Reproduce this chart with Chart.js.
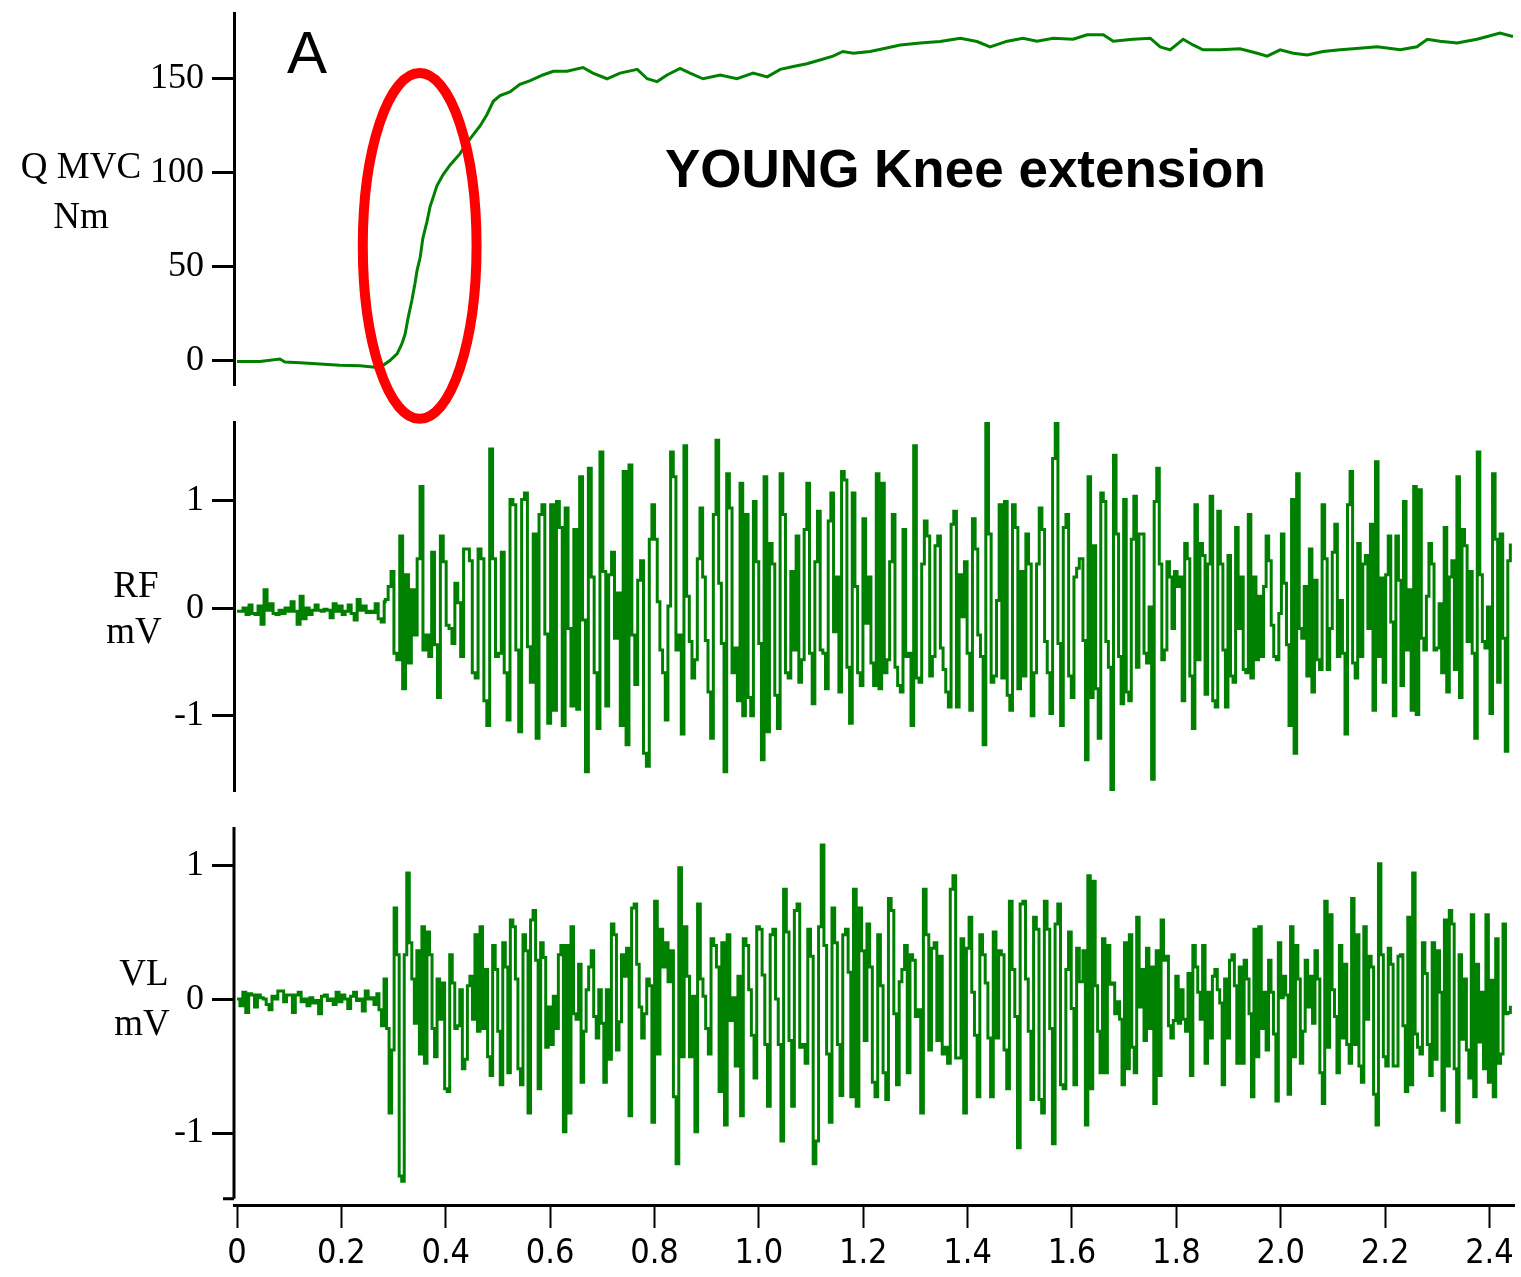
<!DOCTYPE html>
<html>
<head>
<meta charset="utf-8">
<title>YOUNG Knee extension</title>
<script src="https://cdn.jsdelivr.net/npm/chart.js@4.4.1/dist/chart.umd.min.js"></script>
<style>
  html, body { margin: 0; padding: 0; background: #fff; }
  #wrap { position: relative; width: 1521px; height: 1277px; overflow: hidden; background: #fff; }
  #wrap canvas { position: absolute; left: 0; }
  #cTorque { top: 0; z-index: 3; }
  #cRF { top: 400px; z-index: 2; }
  #cVL { top: 810px; z-index: 1; }
</style>
</head>
<body>
<div id="wrap">
  <canvas id="cTorque" width="1521" height="430" style="width:1521px;height:430px"></canvas>
  <canvas id="cRF" width="1521" height="410" style="width:1521px;height:410px"></canvas>
  <canvas id="cVL" width="1521" height="467" style="width:1521px;height:467px"></canvas>
</div>
<script>
// ---- data ----
// time axis, seconds
const TIME_TICKS = [0, 0.2, 0.4, 0.6, 0.8, 1.0, 1.2, 1.4, 1.6, 1.8, 2.0, 2.2, 2.4];
const TIME_LABELS = ['0', '0.2', '0.4', '0.6', '0.8', '1.0', '1.2', '1.4', '1.6', '1.8', '2.0', '2.2', '2.4'];
const Q_TICKS = [0, 50, 100, 150];
const MV_TICKS = [-1, 0, 1];

// quadriceps MVC torque (Nm)
const torqueTime = [0, 0.044, 0.082, 0.092, 0.121, 0.159, 0.197, 0.236, 0.264, 0.280, 0.293, 0.307,
  0.316, 0.322, 0.328, 0.335, 0.341, 0.345, 0.351, 0.356, 0.364, 0.370, 0.376, 0.383, 0.395, 0.408,
  0.427, 0.441, 0.452, 0.466, 0.479, 0.491, 0.504, 0.523, 0.542, 0.562, 0.586, 0.606, 0.632, 0.663,
  0.682, 0.709, 0.734, 0.767, 0.786, 0.805, 0.824, 0.849, 0.868, 0.893, 0.926, 0.958, 0.989, 1.016,
  1.041, 1.066, 1.092, 1.117, 1.142, 1.161, 1.181, 1.213, 1.238, 1.271, 1.309, 1.347, 1.386, 1.418,
  1.443, 1.476, 1.506, 1.533, 1.564, 1.602, 1.629, 1.660, 1.679, 1.717, 1.750, 1.769, 1.788, 1.813,
  1.832, 1.851, 1.884, 1.922, 1.955, 1.974, 1.999, 2.024, 2.051, 2.081, 2.114, 2.139, 2.185, 2.229,
  2.261, 2.281, 2.305, 2.338, 2.376, 2.396, 2.420, 2.445];
const torqueNm = [-0.5, -0.5, 0.8, -0.8, -1.2, -1.8, -2.5, -2.8, -3.5, -2.5, 0, 3.7,
  9, 14, 23, 32, 41, 48, 55, 65, 74, 82, 87, 93, 99, 104,
  110, 116, 120, 125, 131, 138, 141, 143, 147, 149, 152, 154, 154, 156,
  153, 150, 153, 155, 150, 148.5, 152, 155.5, 153, 150, 152, 150, 153, 151,
  155, 156.5, 158, 160, 162, 164.5, 163.6, 164.5, 166, 168, 169, 169.8, 171.6, 169.8,
  167, 170, 171.6, 170, 171.6, 171, 173.4, 173.4, 170, 171, 171.6, 167, 165.4, 171,
  168, 165.4, 165.4, 166, 163.6, 162, 165.4, 163.6, 162.7, 164.5, 165.4, 166, 167, 165.4,
  167, 171, 170, 169, 171, 172.5, 174.3, 172.5];

// rectus femoris EMG (mV), in sections [start s, end s]
const rfQuietSpan = [0, 0.282];
const rfQuiet = [-0.03, -0.03, 0.0, -0.06, 0.03, -0.05, -0.06, 0.02, -0.15, 0.17, -0.02, 0.04, -0.05,
  -0.06, -0.02, -0.05, 0.0, -0.03, 0.06, -0.03, -0.15, 0.11, -0.1, 0.0, -0.06, -0.02, 0.03, -0.02,
  -0.03, -0.01, -0.02, -0.09, 0.04, -0.03, 0.02, -0.06, -0.03, 0.03, -0.05, -0.11, 0.08, -0.02, 0.02,
  -0.04, -0.03, -0.04, 0.04, -0.1, -0.13, 0.06];
const rfOnsetSpan = [0.284, 0.790];
const rfOnset = [0.08, 0.2, 0.34, -0.42, -0.48, 0.67, -0.75, 0.31, -0.51, 0.17, -0.25, 0.46, 1.13, -0.39,
  -0.25, -0.45, 0.52, -0.34, -0.83, 0.67, 0.43, -0.16, -0.19, -0.33, 0.23, 0.05, -0.45, 0.55, 0.55, 0.44,
  -0.6, -0.65, 0.55, 0.46, -0.86, -1.09, 1.48, 0.46, -0.45, -0.42, 0.52, -0.6, -1.04, 1.01, 0.96, -0.39,
  -1.15, 1.01, 1.07, -0.36, -0.69, 0.69, -1.21, 0.87, 0.96, -0.24, -1.07, 0.96, -0.95, 0.99, 0.75, -1.09,
  0.93, -0.19, -0.91, 0.73, -0.94, 1.22, -0.11, -1.52, 1.3, 0.29, -0.6, -1.12, 1.45, 0.34, -0.91, 0.31,
  0.52, -0.28, 0.14, -1.09, 1.27, -1.27, 1.33, -0.25, -0.71, 0.26, 0.44, -1.35, -1.47, 0.64];
const rfMidSpan = [0.795, 1.614];
const rfMid = [0.96, 0.64, 0.06, -0.39, -0.6, -1.04, 0.02, 1.45, 1.22, -0.39, -0.25, -1.17, 1.51, 0.11,
  -0.31, -0.65, -0.48, 0.46, 0.93, 0.29, -0.3, -0.78, -1.21, 0.87, 1.56, 0.23, -0.33, -1.52, 1.25, 0.93,
  -0.6, -0.37, -0.86, 1.16, -1.0, 0.87, -0.83, -1.0, 0.99, 0.43, -0.33, -1.41, 1.22, -1.15, 0.6, 0.41,
  -0.81, -1.12, 1.25, 0.87, -0.6, -0.65, 0.34, -0.39, 0.67, -0.69, -0.48, 0.73, 1.16, -0.42, -0.89, 0.43,
  0.9, -0.39, -0.42, -0.75, 0.81, 1.07, -0.22, 0.29, -0.78, 1.27, 1.19, -0.55, -1.07, 1.07, 0.2, -0.6,
  -0.72, 0.83, -0.14, 0.29, -0.51, -0.72, 1.25, -0.75, 1.16, -0.6, -0.48, 0.43, 0.87, -0.55, -0.72, -0.78,
  0.73, -0.45, -0.42, -1.09, 1.51, -0.65, -0.69, 0.41, 0.81, 0.67, -0.63, -0.45, 0.58, 0.67, -0.37, -0.57,
  -0.78, -0.92, 0.78, 0.9, -0.92, 0.31, -0.08, 0.43, -0.42, -0.95, 0.83, 0.55, -0.25, -0.45, -1.27, 1.73,
  0.69, -0.69, -0.63, 0.07, 0.96, -0.65, 0.99, -0.81, -0.95, 0.96, 0.75, -0.75, 0.34, -0.63, 0.69, 0.41,
  -1.0, -0.6, 0.41, 0.93, 0.73, -0.31, -0.6, -0.98, 1.39, 1.73, -0.33, -1.09, 0.75, 0.87, -0.63, -0.83,
  0.29, 0.37, 0.46];
const rfLateSpan = [1.621, 2.440];
const rfLate = [-0.3, -1.41, 1.22, -0.83, 0.58, -0.75, -1.21, 1.07, 0.99, -0.31, -0.55, -1.7, 1.42, 0.69,
  -0.45, -0.89, 1.01, -0.78, -0.86, 0.64, 1.04, -0.55, 0.69, 0.69, -0.42, -0.51, 0.01, -1.59, 0.99, 1.3,
  0.41, -0.48, -0.39, 0.43, 0.29, -0.19, 0.34, 0.2, 0.29, -0.86, 0.6, 0.46, -0.63, -1.12, 0.96, -0.48,
  0.6, 0.49, -0.8, 0.41, 1.04, -0.86, -0.92, 0.9, 0.41, -0.39, -0.92, 0.49, -0.63, -0.69, 0.75, -0.19,
  0.29, -0.57, -0.6, 0.87, -0.65, 0.29, -0.48, 0.11, -0.45, 0.2, 0.67, 0.44, -0.16, -0.45, -0.48, -0.05,
  0.69, 0.23, -0.34, -1.09, 1.01, -1.35, 1.25, -0.19, -0.28, 0.2, -0.63, 0.55, -0.78, 0.26, -0.48, -0.57,
  0.96, 0.46, -0.57, -0.19, 0.52, 0.78, -0.45, 0.07, -0.42, -1.17, 0.96, 1.27, -0.51, -0.65, 0.6, -0.45,
  0.41, 0.49, -0.19, 0.78, -0.95, 1.36, -0.45, 0.28, -0.69, 0.31, 0.67, -0.13, -1.0, 0.67, 0.26, -0.72,
  0.99, -0.39, 0.17, -0.95, 1.13, -0.99, 1.1, -0.28, -0.39, 0.11, 0.6, 0.41, -0.39, -0.37, 0.04, -0.6,
  0.75, -0.78, 0.29, 0.44, -0.57, 1.22, -0.83, 0.73, 0.58, -0.31, 0.34, -0.42, -1.21, 1.45, 0.31, -0.31,
  -0.37, 0.01, -0.98, 1.25, 0.64, -0.69, 0.69, -0.28, -1.33, 0.44, 0.6];

// vastus lateralis EMG (mV)
const vlQuietSpan = [0, 0.268];
const vlQuiet = [0.0, -0.05, 0.05, -0.1, 0.04, 0.03, -0.06, 0.03, 0.01, 0.0, -0.04, -0.08, 0.02, 0.0, 0.06,
  0.06, -0.02, 0.03, 0.03, -0.1, 0.03, 0.05, -0.02, 0.0, -0.05, 0.01, -0.03, -0.01, -0.11, 0.02, 0.03,
  -0.01, 0.0, -0.04, 0.05, -0.02, 0.03, 0.0, -0.07, 0.02, 0.05, -0.01, 0.0, -0.09, 0.06, 0.0, 0.01, -0.04, 0.04];
const vlOnsetSpan = [0.272, 0.790];
const vlOnset = [-0.08, -0.2, 0.15, -0.22, -0.85, -0.38, 0.68, 0.33, -1.32, -1.36,
  0.33, 0.94, 0.42, 0.15, -0.18, 0.36, -0.41, 0.54, -0.48, 0.5, 0.33, -0.22, -0.43, 0.15, -0.15, 0.12,
  -0.67, -0.69, 0.33, 0.12, -0.22, -0.2, 0.07, -0.52, -0.45, 0.1, 0.17, -0.15, 0.48, -0.24, 0.54, -0.22,
  0.22, -0.43, -0.57, 0.4, 0.22, -0.24, -0.64, 0.42, 0.24, -0.55, 0.59, 0.54, 0.15, -0.52, -0.64, 0.48,
  0.36, -0.85, 0.59, 0.66, 0.29, -0.67, 0.42, 0.31, -0.36, -0.06, -0.34, 0.02, -0.22, 0.33, 0.4, -0.99,
  0.4, -0.85, 0.54, -0.11, -0.15, 0.26, -0.62, -0.24, 0.07, 0.24, 0.36, -0.13, -0.29, 0.07, -0.18, -0.62,
  0.07, -0.45, 0.56, 0.48, -0.38, -0.17, 0.33, 0.17, 0.38, -0.87, 0.68, 0.71, 0.26, -0.06, -0.29, -0.11,
  0.15, 0.1];
const vlMidSpan = [0.795, 1.614];
const vlMid = [-0.92, 0.73, -0.41, 0.52, 0.24, 0.42, 0.13, 0.36, -0.73, -1.23, 0.98, -0.43, 0.54, 0.17,
  -0.43, 0.02, -0.99, 0.71, 0.15, 0.02, -0.22, -0.41, 0.45, 0.4, 0.24, -0.69, 0.42, -0.94, 0.48, -0.16,
  0.01, -0.5, 0.17, -0.87, 0.45, 0.4, 0.07, -0.27, -0.59, 0.54, 0.52, 0.18, -0.34, -0.8, 0.48, 0.52, 0.0,
  -0.34, -1.06, 0.82, 0.5, -0.31, -0.8, 0.66, 0.71, -0.36, -0.34, -0.48, 0.52, 0.32, -1.23, -1.06, 0.54,
  1.15, 0.4, -0.41, -0.92, 0.68, 0.42, -0.34, -0.72, 0.48, 0.52, 0.2, -0.73, 0.82, -0.8, 0.68, 0.36,
  -0.31, 0.56, 0.24, -0.62, -0.73, 0.48, 0.1, -0.55, -0.75, 0.75, 0.66, -0.11, -0.64, 0.13, 0.22, 0.4,
  -0.55, 0.33, 0.29, -0.13, -0.08, -0.85, 0.82, 0.48, -0.38, 0.38, 0.42, -0.31, 0.32, -0.41, -0.36, -0.48,
  0.82, 0.92, -0.44, -0.44, 0.45, -0.85, 0.38, 0.61, 0.05, -0.27, -0.73, 0.48, 0.33, 0.12, -0.29, -0.73,
  0.5, -0.29, 0.36, 0.33, -0.38, -0.67, 0.73, 0.22, -0.13, -1.11, 0.71, 0.73, 0.15, -0.24, -0.75, 0.61,
  0.52, -0.75, -0.85, 0.73, 0.52, -0.22, -1.08, 0.56, 0.71, -0.64, -0.67, 0.22, 0.5, -0.07, -0.64, 0.38, 0.13];
const vlLateSpan = [1.621, 2.440];
const vlLate = [0.36, -0.94, 0.92, -0.67, 0.88, 0.1, -0.24, -0.55, 0.45, -0.55, 0.4, 0.11, 0.12, -0.11,
  -0.02, -0.15, -0.64, 0.42, -0.52, 0.48, -0.36, -0.55, 0.61, -0.06, 0.22, -0.31, 0.38, -0.22, 0.24, -0.78,
  0.36, -0.57, 0.59, 0.29, 0.32, -0.2, -0.29, -0.16, 0.17, -0.18, 0.07, -0.15, -0.24, 0.19, -0.57, 0.4,
  0.24, 0.05, -0.15, 0.4, -0.48, 0.05, -0.29, 0.17, 0.22, 0.07, -0.03, -0.64, 0.15, -0.29, 0.29, 0.33,
  0.1, -0.48, 0.24, -0.48, 0.29, 0.15, -0.11, -0.73, 0.52, -0.43, 0.54, -0.22, 0.05, -0.38, 0.29, 0.05,
  -0.26, -0.76, 0.42, 0.01, 0.17, 0.03, -0.71, 0.54, -0.43, 0.4, 0.15, -0.48, -0.24, 0.29, -0.06, 0.17,
  -0.18, 0.36, 0.15, -0.55, -0.78, 0.73, -0.36, 0.63, 0.07, -0.13, -0.55, 0.4, -0.29, 0.26, -0.34, -0.48,
  0.75, -0.34, 0.48, -0.5, -0.62, 0.54, -0.15, 0.32, 0.24, -0.71, -0.94, 1.01, 0.33, -0.43, -0.5, 0.38,
  0.26, -0.5, -0.5, 0.32, 0.33, -0.2, -0.69, 0.61, -0.64, 0.94, -0.26, -0.36, -0.41, 0.42, 0.19, -0.34,
  -0.57, 0.42, -0.45, 0.36, 0.05, -0.83, 0.59, -0.5, 0.66, 0.56, -0.52, -0.92, 0.33, -0.3, 0.15, -0.38,
  -0.59, 0.63, -0.73, 0.26, -0.32, 0.05, -0.52, 0.63, -0.62, 0.14, -0.73, 0.45, -0.48, -0.41, 0.56, -0.11,
  -0.1, -0.05];

// ---- look ----
const GREEN = '#008000';
const SERIF = "'Liberation Serif', 'Times New Roman', serif";
const SANS = "'Liberation Sans', Arial, sans-serif";
const NARROW = "'Liberation Sans Narrow', 'DejaVu Sans Condensed', 'Arial Narrow', sans-serif";
const X_MIN = -0.0058, X_MAX = 2.447;

// samples of one section are evenly spaced between its start and end time
function sectionPoints(sections) {
  const pts = [];
  sections.forEach(([span, mv]) => {
    const step = (span[1] - span[0]) / (mv.length - 1);
    mv.forEach((v, i) => pts.push({ x: span[0] + i * step, y: v }));
  });
  return pts;
}

function yScale(min, max, ticks, showBorder = true) {
  return {
    type: 'linear', min, max,
    afterBuildTicks: axis => { axis.ticks = ticks.map(v => ({ value: v })); },
    afterFit: axis => { axis.width = 234; axis.paddingTop = 0; axis.paddingBottom = 0; },
    border: { display: showBorder, color: '#000', width: 3 },
    grid: { display: true, drawOnChartArea: false, tickLength: 22, tickWidth: 3, tickColor: '#000' },
    ticks: { color: '#000', font: { family: SERIF, size: 36 }, padding: 8, callback: v => String(v) }
  };
}

const hiddenX = { type: 'linear', min: X_MIN, max: X_MAX, display: false };

function lineSet(points, width, stepped) {
  return {
    data: points, borderColor: GREEN, borderWidth: width, pointRadius: 0,
    stepped, tension: 0, fill: false
  };
}

function textPlugin(items) {
  return {
    id: 'panelText',
    afterDraw(chart) {
      const ctx = chart.ctx;
      ctx.save();
      ctx.fillStyle = '#000';
      ctx.textBaseline = 'middle';
      items.forEach(t => {
        ctx.font = t.font;
        ctx.textAlign = t.align || 'center';
        ctx.fillText(t.text, t.x, t.y);
      });
      ctx.restore();
    }
  };
}

// red ring round the torque rise (centre in data units, radii in data units)
const RING = { t: 0.35, nm: 61, rt: 0.109, rnm: 92 };
const ringPlugin = {
  id: 'ring',
  afterDraw(chart) {
    const { x, y } = chart.scales;
    const cx = x.getPixelForValue(RING.t), cy = y.getPixelForValue(RING.nm);
    const rx = x.getPixelForValue(RING.t + RING.rt) - cx;
    const ry = cy - y.getPixelForValue(RING.nm + RING.rnm);
    const ctx = chart.ctx;
    ctx.save();
    ctx.strokeStyle = '#ff0000';
    ctx.lineWidth = 10;
    ctx.beginPath();
    ctx.ellipse(cx, cy, rx, ry, 0, 0, Math.PI * 2);
    ctx.stroke();
    ctx.restore();
  }
};

const common = { responsive: false, animation: false, events: [],
  plugins: { legend: { display: false }, tooltip: { enabled: false } } };

// torque panel
new Chart(document.getElementById('cTorque'), {
  type: 'line',
  data: { datasets: [lineSet(torqueTime.map((t, i) => ({ x: t, y: torqueNm[i] })), 3, false)] },
  options: { ...common,
    layout: { padding: { top: 13, bottom: 45, left: 0, right: 7 } },
    scales: { x: hiddenX, y: yScale(-13, 185, Q_TICKS) } },
  plugins: [ringPlugin, textPlugin([
    { text: 'A', x: 307, y: 56, font: '60px ' + SANS },
    { text: 'YOUNG Knee extension', x: 665, y: 172, align: 'left', font: 'bold 53px ' + SANS },
    { text: 'Q MVC', x: 81, y: 168, font: '37px ' + SERIF },
    { text: 'Nm', x: 81, y: 218, font: '37px ' + SERIF }
  ])]
});

// RF panel
new Chart(document.getElementById('cRF'), {
  type: 'line',
  data: { datasets: [lineSet(sectionPoints([[rfQuietSpan, rfQuiet], [rfOnsetSpan, rfOnset],
    [rfMidSpan, rfMid], [rfLateSpan, rfLate]]), 3, true)] },
  options: { ...common,
    layout: { padding: { top: 22, bottom: 19, left: 0, right: 7 } },
    scales: { x: hiddenX, y: yScale(-1.70, 1.73, MV_TICKS) } },
  plugins: [textPlugin([
    { text: 'RF', x: 136, y: 187, font: '37px ' + SERIF },
    { text: 'mV', x: 134, y: 233, font: '37px ' + SERIF }
  ])]
});

// VL panel with the shared time axis
const vlAxisEnd = -1.49;
new Chart(document.getElementById('cVL'), {
  type: 'line',
  data: { datasets: [lineSet(sectionPoints([[vlQuietSpan, vlQuiet], [vlOnsetSpan, vlOnset],
    [vlMidSpan, vlMid], [vlLateSpan, vlLate]]), 3, true)] },
  options: { ...common,
    layout: { padding: { top: 17, bottom: 0, left: 0, right: 7 } },
    scales: {
      x: {
        type: 'linear', min: X_MIN, max: X_MAX,
        afterBuildTicks: axis => { axis.ticks = TIME_TICKS.map(v => ({ value: v })); },
        afterFit: axis => { axis.height = 72; axis.paddingLeft = 0; axis.paddingRight = 0; },
        border: { display: true, color: '#000', width: 3 },
        grid: { display: true, drawOnChartArea: false, tickLength: 23, tickWidth: 2, tickColor: '#000' },
        ticks: { color: '#000', font: { family: NARROW, size: 34 }, padding: 6, maxRotation: 0,
          autoSkip: false, callback: (v, i) => TIME_LABELS[i] }
      },
      y: yScale(-1.537, 1.284, MV_TICKS, false)
    } },
  plugins: [{
    id: 'vlAxisLine',
    afterDraw(chart) {
      const { y } = chart.scales;
      const ctx = chart.ctx;
      const left = chart.chartArea.left;
      const bottom = y.getPixelForValue(vlAxisEnd);
      ctx.save();
      ctx.strokeStyle = '#000';
      ctx.lineWidth = 3;
      ctx.beginPath();
      ctx.moveTo(left, chart.chartArea.top);
      ctx.lineTo(left, bottom);
      ctx.moveTo(left - 11, bottom);
      ctx.lineTo(left, bottom);
      ctx.stroke();
      ctx.restore();
    }
  }, textPlugin([
    { text: 'VL', x: 144, y: 165, font: '37px ' + SERIF },
    { text: 'mV', x: 142, y: 215, font: '37px ' + SERIF }
  ])]
});
</script>
</body>
</html>
